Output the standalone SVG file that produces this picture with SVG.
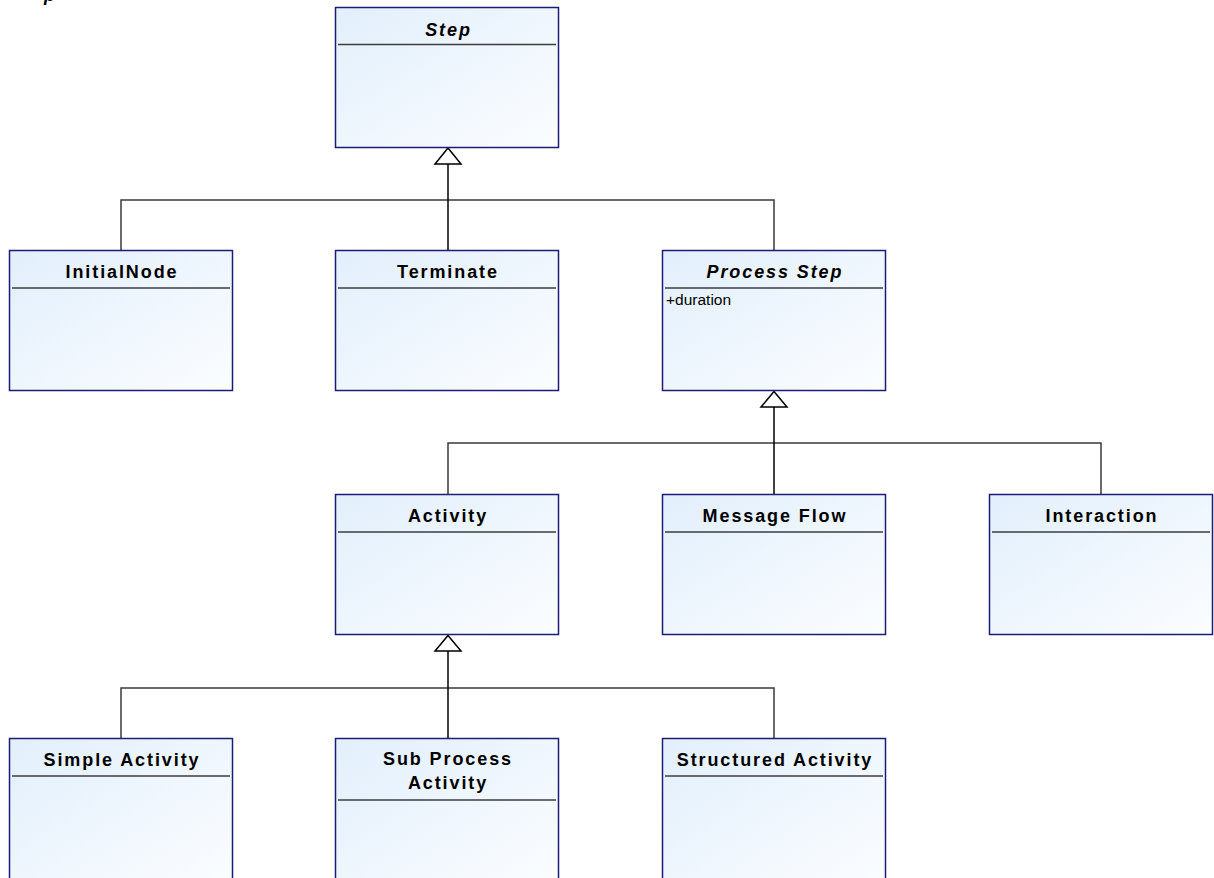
<svg xmlns="http://www.w3.org/2000/svg" width="1214" height="878" viewBox="0 0 1214 878">
  <defs>
    <linearGradient id="boxFill" x1="0" y1="0" x2="1" y2="1">
      <stop offset="0" stop-color="#e2effc"/>
      <stop offset="1" stop-color="#fbfdff"/>
    </linearGradient>
  </defs>
  <style>
    .box { fill: url(#boxFill); stroke: #1c1c78; stroke-width: 1.5; }
    .sep { stroke: #3c3c3c; stroke-width: 1.5; }
    .title { font-family: "Liberation Sans", Arial, sans-serif; font-size: 18px; font-weight: bold; letter-spacing: 1.9px; fill: #000; text-anchor: middle; }
    .abstract { font-style: italic; }
    .attr { font-family: "Liberation Sans", Arial, sans-serif; font-size: 15.5px; fill: #000; }
    .conn { fill: none; stroke: #3a3a3a; stroke-width: 1.5; }
    .trunk { fill: none; stroke: #000; stroke-width: 1.5; }
    .head { fill: #ffffff; stroke: #000; stroke-width: 1.5; }
  </style>

  <!-- clipped heading fragment at the top edge -->
  <text x="44" y="0.5" class="title abstract" style="text-anchor:start">p</text>

  <!-- generalization connectors -->
  <g id="connectors">
    <!-- Step hierarchy -->
    <path class="conn" d="M121,250 V200 H774 V250"/>
    <path class="trunk" d="M448,164 V250"/>
    <path class="head" d="M448,148 L461,164 L435,164 Z"/>
    <!-- Process Step hierarchy -->
    <path class="conn" d="M448,494 V443 H1101 V494"/>
    <path class="trunk" d="M774,407 V494"/>
    <path class="head" d="M774,391.5 L787,407 L761,407 Z"/>
    <!-- Activity hierarchy -->
    <path class="conn" d="M121,738 V688 H774 V738"/>
    <path class="trunk" d="M448,651 V738"/>
    <path class="head" d="M448,635.5 L461,651 L435,651 Z"/>
  </g>

  <g id="step">
    <rect class="box" x="335.5" y="7.5" width="223" height="140"/>
    <line class="sep" x1="338" y1="44.5" x2="556" y2="44.5"/>
    <text class="title abstract" x="448.5" y="36">Step</text>
  </g>

  <g id="initialNode">
    <rect class="box" x="9.5" y="250.5" width="223" height="140"/>
    <line class="sep" x1="12" y1="288" x2="230" y2="288"/>
    <text class="title" x="122" y="278">InitialNode</text>
  </g>

  <g id="terminate">
    <rect class="box" x="335.5" y="250.5" width="223" height="140"/>
    <line class="sep" x1="338" y1="288" x2="556" y2="288"/>
    <text class="title" x="448" y="278">Terminate</text>
  </g>

  <g id="processStep">
    <rect class="box" x="662.5" y="250.5" width="223" height="140"/>
    <line class="sep" x1="665" y1="288" x2="883" y2="288"/>
    <text class="title abstract" x="775" y="278">Process Step</text>
    <text class="attr" x="666" y="305">+duration</text>
  </g>

  <g id="activity">
    <rect class="box" x="335.5" y="494.5" width="223" height="140"/>
    <line class="sep" x1="338" y1="532" x2="556" y2="532"/>
    <text class="title" x="448" y="522">Activity</text>
  </g>

  <g id="messageFlow">
    <rect class="box" x="662.5" y="494.5" width="223" height="140"/>
    <line class="sep" x1="665" y1="532" x2="883" y2="532"/>
    <text class="title" x="775" y="522">Message Flow</text>
  </g>

  <g id="interaction">
    <rect class="box" x="989.5" y="494.5" width="223" height="140"/>
    <line class="sep" x1="992" y1="532" x2="1210" y2="532"/>
    <text class="title" x="1102" y="522">Interaction</text>
  </g>

  <g id="simpleActivity">
    <rect class="box" x="9.5" y="738.5" width="223" height="145"/>
    <line class="sep" x1="12" y1="776" x2="230" y2="776"/>
    <text class="title" x="122" y="766">Simple Activity</text>
  </g>

  <g id="subProcessActivity">
    <rect class="box" x="335.5" y="738.5" width="223" height="145"/>
    <line class="sep" x1="338" y1="800" x2="556" y2="800"/>
    <text class="title" x="448" y="765">Sub Process</text>
    <text class="title" x="448" y="789">Activity</text>
  </g>

  <g id="structuredActivity">
    <rect class="box" x="662.5" y="738.5" width="223" height="145"/>
    <line class="sep" x1="665" y1="776" x2="883" y2="776"/>
    <text class="title" x="775" y="766">Structured Activity</text>
  </g>
</svg>
